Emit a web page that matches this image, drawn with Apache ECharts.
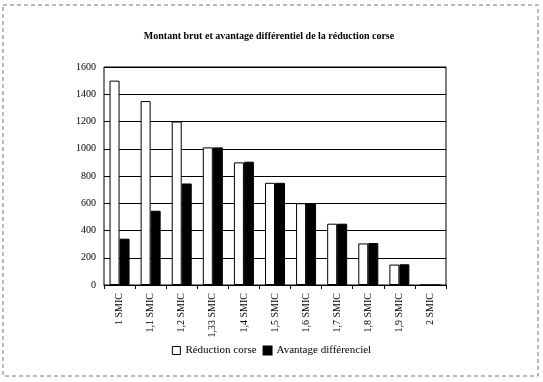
<!DOCTYPE html>
<html><head><meta charset="utf-8">
<script src="https://cdn.jsdelivr.net/npm/echarts@6/dist/echarts.min.js"></script>
<style>html,body{margin:0;padding:0;background:#fff}#c{width:543px;height:382px}</style>
</head><body><div id="c"></div>
<script>
const categories = ["1 SMIC","1,1 SMIC","1,2 SMIC","1,33 SMIC","1,4 SMIC","1,5 SMIC","1,6 SMIC","1,7 SMIC","1,8 SMIC","1,9 SMIC","2 SMIC"];
const reductionCorse = [1500,1350,1200,1010,900,750,600,450,305,150,0];
const avantageDiff = [340,545,745,1010,905,750,600,450,308,152,0];
const yTicks = {min:0, max:1600, interval:200};
const font = "Liberation Serif";
const chart = echarts.init(document.getElementById('c'));
chart.setOption({
  animation:false,
  backgroundColor:'#fff',
  title:{text:'Montant brut et avantage différentiel de la réduction corse',left:264,top:26,textAlign:'center',
    textStyle:{fontFamily:font,fontSize:10,fontWeight:'bold',color:'#000'}},
  graphic:[{type:'rect',shape:{x:3,y:5,width:535,height:371},style:{fill:'none',stroke:'#777',lineWidth:1,lineDash:[4,3]}}],
  grid:{left:104,top:67,width:342,height:218,show:true,borderColor:'#000',borderWidth:1},
  legend:{bottom:21,left:'center',itemWidth:8,itemHeight:8,itemGap:6,icon:'rect',
    textStyle:{fontFamily:font,fontSize:11,color:'#000'},
    data:[{name:'Réduction corse',itemStyle:{color:'#fff',borderColor:'#000',borderWidth:1}},{name:'Avantage différenciel'}]},
  xAxis:{type:'category',data:categories,axisLine:{lineStyle:{color:'#000'}},axisTick:{show:true,lineStyle:{color:'#000'},length:4},
    axisLabel:{rotate:90,fontFamily:font,fontSize:10,color:'#000',margin:8}},
  yAxis:{type:'value',min:yTicks.min,max:yTicks.max,interval:yTicks.interval,
    axisLine:{show:false},axisTick:{show:false},
    splitLine:{lineStyle:{color:'#000',width:1}},
    axisLabel:{fontFamily:font,fontSize:10,color:'#000',margin:8,formatter:v=>String(v)}},
  series:[
    {name:'Réduction corse',type:'bar',data:reductionCorse,barWidth:10,barGap:'0%',
      itemStyle:{color:'#fff',borderColor:'#000',borderWidth:1}},
    {name:'Avantage différenciel',type:'bar',data:avantageDiff,barWidth:10,
      itemStyle:{color:'#000',borderColor:'#000',borderWidth:1}}
  ]
});
</script></body></html>
